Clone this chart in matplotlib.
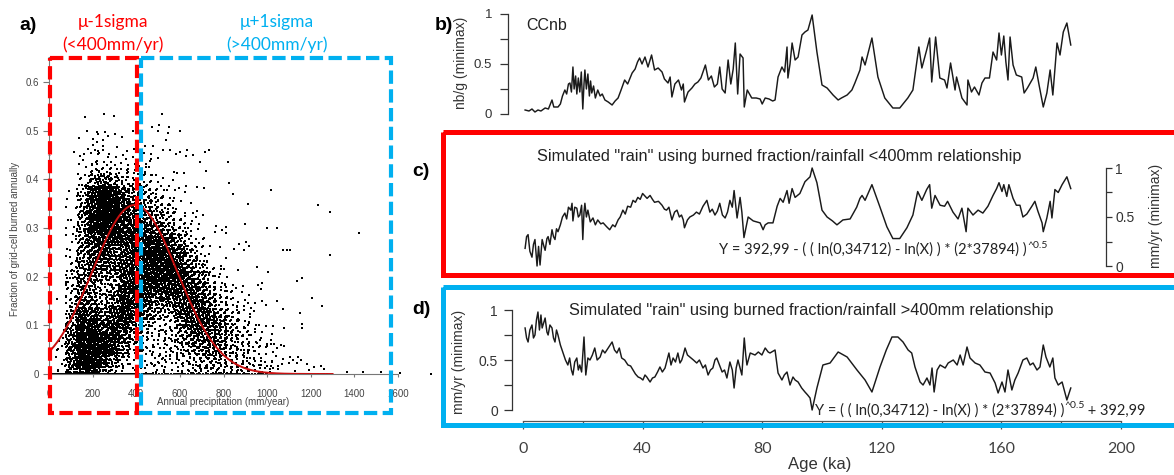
import numpy as np
import matplotlib
matplotlib.use("Agg")
import matplotlib.pyplot as plt
from matplotlib.patches import Rectangle

# ======================= DATA =======================
# ---- panel a: burned fraction vs annual precipitation ----
A_XTICKS = [0, 200, 400, 600, 800, 1000, 1200, 1400, 1600]
A_XTICKLABELS = ["0", "200", "400", "600", "800", "1000", "1200", "1400", "1600"]
A_YTICKS = [0, 0.1, 0.2, 0.3, 0.4, 0.5, 0.6]
A_YTICKLABELS = ["0", "0.1", "0.2", "0.3", "0.4", "0.5", "0.6"]

# gaussian fit written in the figure: amplitude 0.34712, mean 392.99, variance 37894
GAUSS_AMP = 0.34712
GAUSS_MU = 392.99
GAUSS_VAR = 37894.0
GAUSS_XRANGE = (10, 1300)

# point-cloud density: 50 mm x 0.025 cells,
# rows from top (0.500-0.525) to bottom (0-0.025), one digit (0-9) per 50 mm column
DENSITY_X_BIN = 50.0
DENSITY_Y_BIN = 0.025
DENSITY_ROWS = [
    "00011100011000000000000000",
    "00122111101100000000000000",
    "00122221211111000000000000",
    "00123222221111100000000000",
    "00134333321100000000000000",
    "00147753432111001000000000",
    "00269986543211000000000000",
    "00269987654321100000000000",
    "00369987765422111000000000",
    "00368887877532111100000000",
    "00367767888753211110000000",
    "00367767888864211110000000",
    "00466667888876321110000000",
    "01564468888877432111000000",
    "01574468776777643211000000",
    "01574578664677754221100000",
    "01686687653477765321100000",
    "02798785432466765432111000",
    "02899875433456665432211000",
    "03899853233344555443221100",
    "03787422233334444443322211",
]
# points sitting exactly on zero burned fraction, per 50 mm column
ZERO_ROW = "99999966333333333333222222"
LEVEL_COUNTS = [0, 1, 3, 7, 13, 21, 31, 44, 60, 80]
# isolated outliers (precipitation, fraction)
OUT_X = [518, 601, 537, 661, 734, 693, 821, 1018, 845, 677, 1234, 1289, 1419, 1289,
         1000, 1045, 914, 1105, 1160, 1205, 1250, 1136, 1005, 1045, 1075, 1090, 1151,
         1160, 1365, 1440, 1520, 1610, 1752]
OUT_Y = [0.534, 0.50, 0.48, 0.45, 0.46, 0.435, 0.435, 0.378, 0.37, 0.385, 0.347, 0.333,
         0.29, 0.244, 0.30, 0.30, 0.35, 0.255, 0.197, 0.156, 0.139, 0.19, 0.21, 0.15,
         0.255, 0.255, 0.125, 0.094, 0.004, 0.004, 0.004, 0.003, 0.0]

# ---- panel b: CCnb (minimax) ----
B_AGE = [0.7, 2, 3, 4, 5, 6, 7.4, 8.5, 9.7, 10.3, 11.7, 12.5, 13.2, 14, 14.6, 15.2, 15.7,
         16.2, 16.7, 17.1, 17.6, 18, 18.5, 19, 19.5, 20, 20.4, 20.7, 21.2, 21.7, 22.2, 22.6,
         23, 23.6, 24.2, 25, 25.8, 26.5, 27.4, 28.5, 29.8, 30.8, 31.8, 32.8, 34, 35, 36.5,
         37.5, 38.3, 39, 39.8, 40.8, 41.8, 43, 44, 45.2, 46.5, 47.3, 48.5, 49.2, 49.8, 50.8,
         52, 53, 53.6, 54, 55.2, 56.5, 57.5, 58.5, 59.5, 61, 62, 63, 64, 65, 65.8, 66.6,
         67.6, 68.6, 69.5, 70.3, 71, 71.8, 72.6, 73.6, 74, 75, 76.5, 78, 79.3, 80, 81, 82.3,
         83.5, 84.3, 85.3, 86.6, 87.5, 88.3, 88.6, 89.3, 90, 91, 92, 93.3, 94.3, 95.3, 96.7,
         98.3, 100, 101.7, 103.7, 105.4, 106.5, 108.4, 110, 111, 112.7, 113.4, 114.4, 116.7,
         118.7, 121, 123.7, 126, 128.7, 130.4, 132.4, 133.4, 135, 136, 136.7, 138, 139.4,
         141, 141.8, 143, 144.5, 145, 146.8, 148.5, 148.8, 150, 151, 152.5, 153.5, 154.5,
         156, 157.2, 158.4, 159.2, 160, 160.8, 161.5, 162.2, 162.9, 163.9, 165, 166.8,
         167.6, 168.7, 170.6, 171.5, 172.6, 174, 175.2, 176.3, 177.2, 178.6, 179.6, 180.7,
         181.9, 183.2]
B_VAL = [0.04, 0.03, 0.05, 0.02, 0.04, 0.03, 0.06, 0.05, 0.14, 0.07, 0.07, 0.10, 0.18, 0.24,
         0.20, 0.30, 0.31, 0.22, 0.47, 0.25, 0.38, 0.20, 0.36, 0.22, 0.42, 0.05, 0.30, 0.44,
         0.25, 0.40, 0.18, 0.33, 0.21, 0.28, 0.16, 0.24, 0.18, 0.20, 0.14, 0.12, 0.09, 0.13,
         0.16, 0.24, 0.34, 0.30, 0.41, 0.45, 0.52, 0.56, 0.50, 0.57, 0.47, 0.59, 0.44, 0.46,
         0.42, 0.35, 0.31, 0.37, 0.17, 0.30, 0.34, 0.24, 0.30, 0.12, 0.22, 0.26, 0.30, 0.32,
         0.36, 0.49, 0.34, 0.38, 0.27, 0.30, 0.47, 0.25, 0.21, 0.54, 0.30, 0.45, 0.71, 0.20,
         0.60, 0.56, 0.07, 0.24, 0.16, 0.16, 0.15, 0.10, 0.16, 0.15, 0.13, 0.14, 0.37, 0.47,
         0.42, 0.67, 0.36, 0.50, 0.71, 0.54, 0.57, 0.79, 0.82, 0.84, 0.99, 0.62, 0.29, 0.26,
         0.19, 0.14, 0.16, 0.19, 0.24, 0.31, 0.44, 0.57, 0.49, 0.76, 0.37, 0.16, 0.06, 0.06,
         0.16, 0.24, 0.67, 0.46, 0.64, 0.76, 0.32, 0.77, 0.36, 0.34, 0.26, 0.51, 0.24, 0.37,
         0.16, 0.09, 0.34, 0.22, 0.27, 0.19, 0.31, 0.36, 0.36, 0.62, 0.54, 0.81, 0.59, 0.78,
         0.52, 0.34, 0.77, 0.49, 0.39, 0.37, 0.21, 0.26, 0.36, 0.47, 0.29, 0.07, 0.21, 0.44,
         0.19, 0.71, 0.59, 0.82, 0.91, 0.69]

# ---- panel c: simulated rain, <400 mm relationship (minimax) ----
C_AGE = [0.7, 1.2, 1.7, 2.3, 3, 3.5, 4, 4.4, 4.7, 5.2, 5.7, 6.4, 7, 7.4, 8, 8.4, 9, 9.7, 10.2,
         10.7, 11.2, 11.7, 12.5, 13.2, 14, 14.6, 15.2, 16, 16.4, 16.7, 17.3, 18, 18.5, 19,
         19.6, 20, 20.4, 20.7, 21.2, 21.7, 22.5, 23.4, 24.2, 25, 26, 26.8, 28, 29, 30, 30.8,
         31.8, 32.5, 33.4, 34.2, 35, 36, 36.8, 37.6, 38.4, 39.2, 40, 41.5, 42.5, 43.3, 44,
         45.3, 46.5, 47.3, 48, 48.8, 49.8, 50.7, 51.5, 52.3, 53, 53.6, 54, 55, 55.8, 57, 58,
         59, 60.2, 61.5, 62.5, 63.3, 64.2, 65, 65.8, 66.7, 67.6, 68.4, 69.2, 70, 70.6, 71.6,
         72.6, 73.2, 73.9, 75.3, 77, 78.2, 79.3, 80.3, 81, 82, 83.6, 85, 86, 87, 88.3, 89, 90,
         91, 92.6, 94.3, 96, 96.7, 98.3, 100, 101.7, 103.5, 105, 107, 109.4, 111.6, 112.7,
         113.4, 114.4, 116.7, 119.4, 121.7, 123.7, 126, 128.4, 130.4, 132, 133.4, 135, 136,
         136.7, 137.8, 139.5, 141, 142, 143.8, 145.5, 146.8, 148.2, 148.8, 150.5, 152.2,
         153.8, 155.5, 157.2, 158.4, 159.2, 160.2, 160.8, 161.8, 162.5, 163.9, 165, 166.2,
         167.2, 168.5, 170.2, 171.2, 172.2, 173.6, 174, 175.2, 176.3, 176.9, 177.9, 179,
         180.3, 181.9, 183.2]
C_VAL = [0.18, 0.30, 0.32, 0.15, 0.09, 0.22, 0.27, 0.12, 0.00, 0.20, 0.01, 0.27, 0.20, 0.16,
         0.28, 0.30, 0.22, 0.37, 0.30, 0.27, 0.38, 0.35, 0.42, 0.50, 0.54, 0.48, 0.60, 0.57,
         0.64, 0.46, 0.60, 0.59, 0.50, 0.52, 0.62, 0.27, 0.55, 0.64, 0.50, 0.57, 0.45, 0.49,
         0.42, 0.47, 0.43, 0.44, 0.40, 0.37, 0.42, 0.40, 0.47, 0.50, 0.57, 0.53, 0.61, 0.60,
         0.67, 0.65, 0.70, 0.68, 0.74, 0.69, 0.72, 0.68, 0.65, 0.66, 0.62, 0.58, 0.57, 0.60,
         0.47, 0.55, 0.57, 0.50, 0.52, 0.47, 0.39, 0.47, 0.50, 0.52, 0.55, 0.53, 0.61, 0.67,
         0.55, 0.58, 0.52, 0.56, 0.64, 0.52, 0.49, 0.55, 0.67, 0.60, 0.77, 0.49, 0.70, 0.55,
         0.29, 0.50, 0.46, 0.45, 0.44, 0.37, 0.42, 0.44, 0.44, 0.61, 0.69, 0.65, 0.77, 0.64,
         0.79, 0.70, 0.74, 0.86, 0.91, 1.00, 0.85, 0.57, 0.50, 0.46, 0.42, 0.47, 0.48, 0.60,
         0.69, 0.72, 0.67, 0.83, 0.60, 0.40, 0.28, 0.28, 0.39, 0.52, 0.76, 0.67, 0.78, 0.83,
         0.59, 0.72, 0.62, 0.61, 0.66, 0.55, 0.48, 0.59, 0.35, 0.59, 0.52, 0.57, 0.54, 0.61,
         0.72, 0.79, 0.85, 0.76, 0.83, 0.71, 0.83, 0.69, 0.62, 0.62, 0.50, 0.53, 0.61, 0.66,
         0.56, 0.44, 0.35, 0.49, 0.66, 0.49, 0.78, 0.75, 0.83, 0.91, 0.79]

# ---- panel d: simulated rain, >400 mm relationship (minimax) ----
D_AGE = [0.7, 1.2, 1.7, 2.3, 3, 3.5, 4, 4.5, 5, 5.5, 6, 6.4, 7, 7.4, 8, 8.4, 9, 9.7, 10.2,
         10.7, 11.2, 11.7, 12.5, 13.4, 14.2, 15, 15.6, 16.2, 16.7, 17.3, 18, 18.5, 19, 19.6,
         20.4, 21, 21.7, 22.4, 23.2, 24, 24.8, 25.8, 26.6, 27.4, 28.5, 29.8, 30.6, 31.4,
         32.2, 33, 34, 35.1, 36, 36.8, 37.6, 38.5, 39.3, 40.1, 40.8, 41.4, 42.5, 43.3, 44.1,
         45, 45.8, 46.6, 47.5, 48.2, 48.8, 49.5, 50.2, 51, 51.8, 52.5, 53.1, 53.6, 54.2, 55,
         55.8, 57, 58.1, 59, 60.2, 61, 61.9, 62.7, 63.5, 64.2, 64.8, 65.7, 66.6, 67.4, 68.2,
         69.2, 70, 70.6, 71.3, 71.9, 72.6, 73.2, 74, 74.5, 74.9, 76, 77.6, 78.7, 79.9, 81,
         82, 82.6, 84.3, 85.3, 86.6, 87.4, 88.3, 89.3, 90.3, 91, 92, 93.2, 94.3, 95.2, 96,
         96.7, 98.3, 100.3, 102.7, 105.4, 108.4, 111.7, 114.4, 116.7, 119.4, 121.5, 123.4,
         125.4, 127.1, 128.8, 130, 131.1, 132.8, 133.8, 135.1, 136.1, 136.8, 137.5, 138.5,
         139.5, 141.2, 142.2, 143.9, 145.2, 146.2, 147.2, 148.5, 149.5, 151.2, 152.8, 154.5,
         156.2, 157.9, 158.9, 160.2, 161.2, 162.2, 163.5, 164.5, 165.6, 167.2, 168.5, 169.6,
         170.6, 171.9, 172.9, 174, 174.9, 176.2, 177.2, 177.9, 179, 180.3, 181.9, 183.2]
D_VAL = [0.82, 0.72, 0.68, 0.80, 0.85, 0.72, 0.75, 0.90, 0.98, 0.80, 0.95, 0.82, 0.88, 0.92,
         0.78, 0.75, 0.85, 0.82, 0.72, 0.68, 0.80, 0.75, 0.65, 0.57, 0.50, 0.45, 0.52, 0.40,
         0.35, 0.48, 0.52, 0.40, 0.45, 0.38, 0.73, 0.35, 0.52, 0.50, 0.55, 0.62, 0.50, 0.53,
         0.60, 0.57, 0.62, 0.68, 0.60, 0.57, 0.62, 0.52, 0.50, 0.45, 0.44, 0.40, 0.36, 0.33,
         0.32, 0.30, 0.35, 0.33, 0.28, 0.32, 0.33, 0.38, 0.43, 0.38, 0.42, 0.50, 0.57, 0.45,
         0.52, 0.48, 0.57, 0.47, 0.50, 0.55, 0.62, 0.55, 0.53, 0.50, 0.47, 0.50, 0.42, 0.45,
         0.35, 0.40, 0.42, 0.50, 0.52, 0.45, 0.38, 0.40, 0.32, 0.48, 0.40, 0.22, 0.42, 0.50,
         0.42, 0.35, 0.72, 0.55, 0.45, 0.57, 0.55, 0.58, 0.55, 0.62, 0.58, 0.57, 0.60, 0.37,
         0.30, 0.35, 0.38, 0.25, 0.33, 0.30, 0.28, 0.22, 0.18, 0.15, 0.12, 0.00, 0.22, 0.45,
         0.47, 0.58, 0.53, 0.40, 0.30, 0.18, 0.43, 0.60, 0.73, 0.73, 0.68, 0.60, 0.57, 0.43,
         0.28, 0.25, 0.32, 0.25, 0.42, 0.18, 0.40, 0.45, 0.42, 0.47, 0.50, 0.45, 0.55, 0.45,
         0.63, 0.52, 0.47, 0.45, 0.38, 0.37, 0.27, 0.17, 0.28, 0.18, 0.40, 0.20, 0.30, 0.37,
         0.50, 0.52, 0.45, 0.47, 0.40, 0.43, 0.65, 0.53, 0.43, 0.52, 0.32, 0.25, 0.28, 0.10,
         0.22]

MINIMAX_TICKS = [0, 0.25, 0.5, 0.75, 1]
MINIMAX_TICKLABELS = ["0", "", "0.5", "", "1"]
AGE_TICKS = [0, 40, 80, 120, 160, 200]
AGE_TICKLABELS = ["0", "40", "80", "120", "160", "200"]
AGE_MINOR = [20, 60, 100, 140, 180]

# ======================= FIGURE =======================
W, H = 1174, 475
fig = plt.figure(figsize=(W / 100, H / 100), dpi=100)

CAL = ["Lato", "DejaVu Sans"]
ARI = ["Liberation Sans", "DejaVu Sans"]
RED = "#ff0000"
BLUE = "#00b0f0"
INK = "#1a1a1a"


def box(l, t, r, b):
    return [l / W, 1 - b / H, (r - l) / W, (b - t) / H]


# ---------- panel a ----------
A_X0, A_X1 = 49, 398          # pixel position of 0 and 1600
A_Y0, A_PX_PER = 374, 487.0   # pixel of y=0, pixels per unit
A_YTOP = 0.65
ax_a = fig.add_axes(box(A_X0, A_Y0 - A_YTOP * A_PX_PER, A_X1, A_Y0))
ax_a.set_xlim(0, 1600)
ax_a.set_ylim(0, A_YTOP)

xs, ys = [], []
g1, g2 = 0.7548776662466927, 0.5698402909980532
SPREAD = 2.0  # each cell's points cover twice its size: neighbouring cells blend evenly
nrows = len(DENSITY_ROWS)
for r, row in enumerate(DENSITY_ROWS):
    y0 = (nrows - 1 - r) * DENSITY_Y_BIN
    for c, ch in enumerate(row):
        n = LEVEL_COUNTS[int(ch)]
        if n == 0:
            continue
        start = int(((r * 0.6180339 + c * 0.4142136) % 1) * 5000)
        k = np.arange(start + 1, start + n + 1)
        u = (k * g1) % 1
        v = (k * g2) % 1
        xc = c * DENSITY_X_BIN + 0.5 * DENSITY_X_BIN + (u - 0.5) * SPREAD * DENSITY_X_BIN
        yc = y0 + 0.5 * DENSITY_Y_BIN + (v - 0.5) * SPREAD * DENSITY_Y_BIN
        yc = np.abs(yc)
        keep = xc >= 0
        xs.append(xc[keep])
        ys.append(yc[keep])
for c, ch in enumerate(ZERO_ROW):
    n = LEVEL_COUNTS[int(ch)]
    k = np.arange(1, n + 1)
    xs.append(c * DENSITY_X_BIN + ((0.31 * c + k * g1) % 1) * DENSITY_X_BIN)
    ys.append(np.zeros(n))
xs = np.concatenate(xs + [np.array(OUT_X, float)])
ys = np.concatenate(ys + [np.array(OUT_Y, float)])
ax_a.scatter(xs, ys, s=0.9, c="black", marker="s", linewidths=0, zorder=2, clip_on=False)

gx = np.linspace(GAUSS_XRANGE[0], GAUSS_XRANGE[1], 300)
gy = GAUSS_AMP * np.exp(-(gx - GAUSS_MU) ** 2 / (2 * GAUSS_VAR))
ax_a.plot(gx, gy, color="#c81010", lw=1.4, zorder=3)

for s in ("top", "right"):
    ax_a.spines[s].set_visible(False)
for s in ("left", "bottom"):
    ax_a.spines[s].set_color("#777777")
    ax_a.spines[s].set_linewidth(0.8)
ax_a.set_xticks(A_XTICKS)
ax_a.set_xticklabels(A_XTICKLABELS, fontfamily=ARI, fontsize=7, color="#444444")
ax_a.set_yticks(A_YTICKS)
ax_a.set_yticklabels(A_YTICKLABELS, fontfamily=ARI, fontsize=7, color="#444444")
ax_a.set_yticks(np.arange(0.05, 0.66, 0.1), minor=True)
ax_a.tick_params(axis="x", length=2, pad=9, color="#777777")
ax_a.tick_params(axis="y", which="major", length=4, pad=3, color="#777777")
ax_a.tick_params(axis="y", which="minor", length=2, color="#777777", direction="inout")
ax_a.patch.set_alpha(0)

# ---------- age panels ----------
AGE0_PX, PX_PER_KA = 523.0, 2.99


def px_age(p):
    return (p - AGE0_PX) / PX_PER_KA


def style_minimax(ax, side, pad, length, fs):
    for s in ("top", "right", "left", "bottom"):
        ax.spines[s].set_visible(False)
    ax.spines[side].set_visible(True)
    ax.spines[side].set_color("#333333")
    ax.spines[side].set_linewidth(0.9)
    ax.spines[side].set_bounds(0, 1)
    ax.set_yticks(MINIMAX_TICKS)
    ax.set_yticklabels(MINIMAX_TICKLABELS, fontfamily=ARI, fontsize=fs, color="#333333")
    if side == "right":
        ax.yaxis.tick_right()
    ax.tick_params(axis="y", length=length, width=0.9, pad=pad, color="#333333")
    ax.set_xticks([])
    ax.patch.set_alpha(0)


LW = 1.05
# b
ax_b = fig.add_axes(box(508, 14, 1120, 114))
ax_b.set_xlim(px_age(508), px_age(1120))
ax_b.set_ylim(0, 1)
ax_b.plot(B_AGE, B_VAL, color=INK, lw=LW, clip_on=False)
style_minimax(ax_b, "left", 5.5, 6, 9.5)

# c
ax_c = fig.add_axes(box(508, 168, 1106, 266))
ax_c.set_xlim(px_age(508), px_age(1106))
ax_c.set_ylim(0, 1)
ax_c.plot(C_AGE, C_VAL, color=INK, lw=LW, clip_on=False)
style_minimax(ax_c, "right", 2, 4.5, 10)

# d
ax_d = fig.add_axes(box(512, 310, 1121, 421))
ax_d.set_xlim(px_age(512), px_age(1121))
ax_d.set_ylim(-0.11, 1)
ax_d.plot(D_AGE, D_VAL, color=INK, lw=LW, clip_on=False)
style_minimax(ax_d, "left", 4, 6, 10)
ax_d.spines["bottom"].set_visible(True)
ax_d.spines["bottom"].set_color("#555555")
ax_d.spines["bottom"].set_linewidth(0.9)
ax_d.spines["bottom"].set_bounds(0, 200)
ax_d.set_xticks(AGE_TICKS)
ax_d.set_xticklabels(AGE_TICKLABELS, fontfamily=CAL, fontsize=11.5, color="#404040")
ax_d.set_xticks(AGE_MINOR, minor=True)
ax_d.tick_params(axis="x", which="major", length=6, width=0.9, pad=9, color="#555555")
ax_d.tick_params(axis="x", which="minor", length=2, width=0.9, color="#555555")

# ---------- overlay (boxes, labels) ----------
ov = fig.add_axes([0, 0, 1, 1], zorder=10)
ov.set_xlim(0, W)
ov.set_ylim(H, 0)
ov.axis("off")
ov.patch.set_alpha(0)

ov.add_patch(Rectangle((50, 58), 87, 355, fill=False, ec=RED, lw=3.0,
                       linestyle=(0, (3.2, 1.3)), joinstyle="miter"))
ov.add_patch(Rectangle((141, 58), 250, 355, fill=False, ec=BLUE, lw=3.0,
                       linestyle=(0, (3.2, 1.3)), joinstyle="miter"))
ov.add_patch(Rectangle((442.5, 131.5), 740, 143, fill=False, ec=RED, lw=3.6,
                       joinstyle="miter", clip_on=False))
ov.add_patch(Rectangle((442.5, 286.5), 740, 138.5, fill=False, ec=BLUE, lw=3.6,
                       joinstyle="miter", clip_on=False))

# panel letters
for lbl, x, y in [("a)", 28, 25), ("b)", 444, 25), ("c)", 421, 172), ("d)", 421, 310)]:
    ov.text(x, y, lbl, ha="center", va="center", fontsize=14, fontweight="bold",
            family=ARI, color="black")

# panel a texts
ov.text(113, 22, "μ-1sigma", ha="center", va="center", fontsize=12.5, family=CAL, color=RED)
ov.text(113, 45, "(<400mm/yr)", ha="center", va="center", fontsize=12.5, family=CAL, color=RED)
ov.text(277, 22, "μ+1sigma", ha="center", va="center", fontsize=12.5, family=CAL, color=BLUE)
ov.text(277, 45, "(>400mm/yr)", ha="center", va="center", fontsize=12.5, family=CAL, color=BLUE)
ov.text(223, 402, "Annual precipitation (mm/year)", ha="center", va="center", fontsize=7,
        family=ARI, color="#444444")
ov.text(15, 239, "Fraction of grid-cell burned annually", ha="center", va="center",
        fontsize=7, family=ARI, color="#444444", rotation=90)

# b/c/d texts
ov.text(526, 25, "CCnb", ha="left", va="center", fontsize=11.5, family=ARI, color="#222222")
ov.text(461, 63, "nb/g (minimax)", ha="center", va="center", fontsize=10, family=ARI,
        color="#333333", rotation=90)
ov.text(1156, 216, "mm/yr (minimax)", ha="center", va="center", fontsize=10, family=ARI,
        color="#333333", rotation=90)
ov.text(459, 362, "mm/yr (minimax)", ha="center", va="center", fontsize=10, family=ARI,
        color="#333333", rotation=90)
ov.text(779, 157, 'Simulated "rain" using burned fraction/rainfall <400mm relationship',
        ha="center", va="center", fontsize=11.8, family=ARI, color="#222222")
ov.text(811, 310, 'Simulated "rain" using burned fraction/rainfall >400mm relationship',
        ha="center", va="center", fontsize=11.8, family=ARI, color="#222222")
ov.text(820, 465, "Age (ka)", ha="center", va="center", fontsize=12, family=ARI,
        color="#333333")

renderer = fig.canvas.get_renderer()


def chain_from_right(x_right, y, head, tail_parts, fs):
    """head ends at x_right; tail parts (text, fontsize, dy) follow to the right."""
    ov.text(x_right, y, head, ha="right", va="center", fontsize=fs, family=CAL,
            color="#222222")
    x = x_right
    for txt, tfs, dy in tail_parts:
        t = ov.text(x, y + dy, txt, ha="left", va="center", fontsize=tfs, family=CAL,
                    color="#222222")
        bb = t.get_window_extent(renderer=renderer)
        x = bb.x1


chain_from_right(1027, 250, "Y = 392,99 - ( ( ln(0,34712) - ln(X) ) * (2*37894) )",
                 [("^0.5", 7.5, -5)], 10.5)
chain_from_right(1064, 411, "Y = ( ( ln(0,34712) - ln(X) ) * (2*37894) )",
                 [("^0.5", 7.5, -5), (" + 392,99", 10.5, 0)], 10.5)

fig.savefig("out.png", dpi=100)
